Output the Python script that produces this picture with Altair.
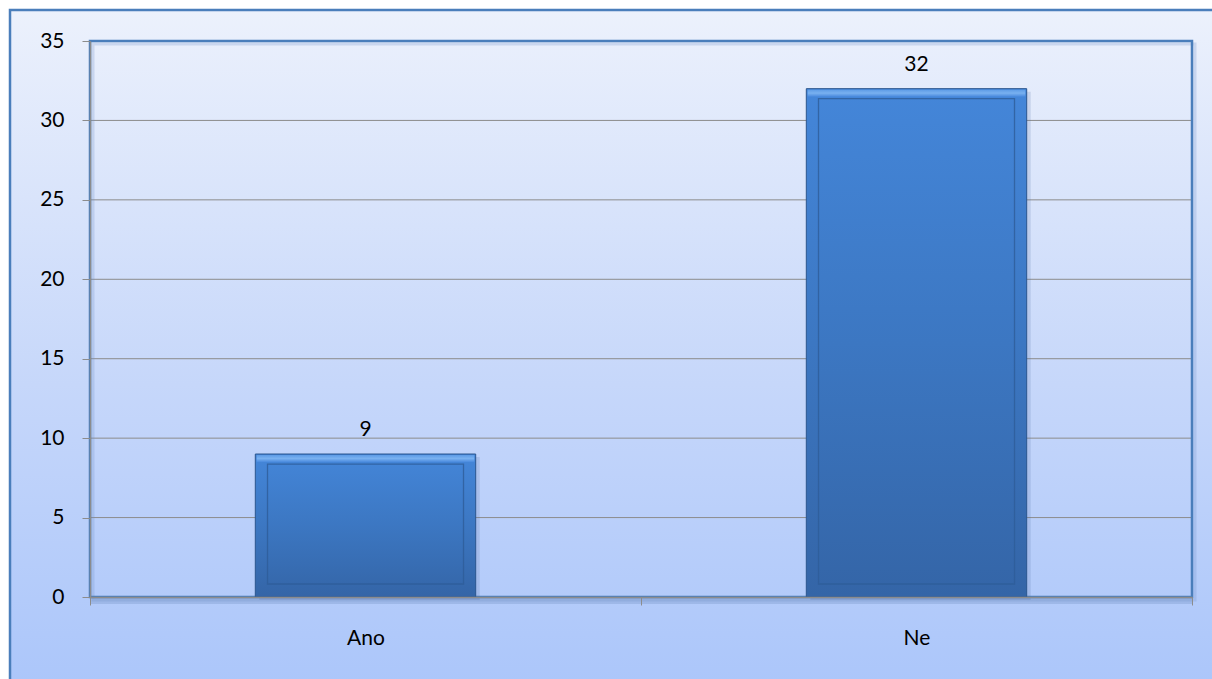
import altair as alt
import pandas as pd

# ---- data ----
categories = ["Ano", "Ne"]
counts = [9, 32]
y_ticks = [0, 5, 10, 15, 20, 25, 30, 35]

# ---- layout ----
W, H = 1102, 556
PL, PT, PR, PB = 90, 41, 20, 82
FONT = "Lato"
FS = 21

df = pd.DataFrame({"cat": categories, "n": counts})
grid_df = pd.DataFrame({"n": y_ticks[1:]})
zero_df = pd.DataFrame({"n": [0]})

xscale = alt.Scale(domain=categories, paddingInner=0, paddingOuter=0)
yscale = alt.Scale(domain=[0, 35], nice=False, zero=True)

xaxis = alt.Axis(
    title="", labelAngle=0, tickBand="extent", domainColor="#8c8c8c",
    domainWidth=1.5, tickColor="#8c8c8c", tickSize=8, labelPadding=22,
    labelFont=FONT, labelFontSize=FS, labelColor="#000000", grid=False, zindex=1,
)
yaxis = alt.Axis(
    title="", values=y_ticks, domainColor="#8c8c8c", domainWidth=1.5,
    tickColor="#8c8c8c", tickSize=8, labelPadding=18, labelFont=FONT,
    labelFontSize=FS, labelColor="#000000", grid=False, zindex=1,
)

X = alt.X("cat:N", scale=xscale, axis=xaxis, sort=categories)
Y = alt.Y("n:Q", scale=yscale, axis=yaxis)

bg_grad = alt.LinearGradient(
    gradient="linear", x1=0, x2=0, y1=0, y2=1,
    stops=[alt.GradientStop(color="#ecf1fc", offset=0),
           alt.GradientStop(color="#c6d7fa", offset=0.5),
           alt.GradientStop(color="#a5c2fa", offset=1)],
)
bar_grad = alt.LinearGradient(
    gradient="linear", x1=0, x2=0, y1=0, y2=1,
    stops=[alt.GradientStop(color="#4486d9", offset=0),
           alt.GradientStop(color="#3c77c2", offset=0.5),
           alt.GradientStop(color="#3465a7", offset=1)],
)
hi_grad = alt.LinearGradient(
    gradient="linear", x1=0, x2=0, y1=0, y2=1,
    stops=[alt.GradientStop(color="#5d9be6", offset=0),
           alt.GradientStop(color="#79b1f0", offset=0.5),
           alt.GradientStop(color="#4a8ade", offset=1)],
)

one = alt.Data(values=[{}])

background = alt.Chart(one).mark_rect(
    color=bg_grad, stroke="#4a7ebb", strokeWidth=2.5
).encode(
    x=alt.value(-PL + 10), x2=alt.value(W + PR + 80),
    y=alt.value(-PT + 10), y2=alt.value(H + PB + 80),
)

grid = alt.Chart(grid_df).mark_rule(color="#8c8c8c", strokeWidth=1).encode(y=Y)

plot_shadow = alt.Chart(one).mark_rect(
    fill="transparent", stroke="#6f8fc8", strokeWidth=3, strokeOpacity=0.25
).encode(x=alt.value(3), x2=alt.value(W + 3), y=alt.value(3), y2=alt.value(H + 3))

plot_border = alt.Chart(one).mark_rect(
    fill="transparent", stroke="#4a7ebb", strokeWidth=2.5
).encode(x=alt.value(0), x2=alt.value(W), y=alt.value(0), y2=alt.value(H))

axis_shadow = alt.Chart(zero_df).mark_rule(
    color="#5f7fb5", strokeWidth=6, opacity=0.25, yOffset=4
).encode(y=Y)

bar_shadow = alt.Chart(df).mark_bar(
    width=alt.RelativeBandSize(0.4), color="#4b6b9e", opacity=0.18,
    xOffset=4, yOffset=3,
).encode(x=X, y=Y)

bars = alt.Chart(df).mark_bar(
    width=alt.RelativeBandSize(0.4), color=bar_grad, stroke="#2b568e", strokeWidth=1
).encode(x=X, y=Y)

highlight = alt.Chart(df).mark_bar(
    width=alt.RelativeBandSize(0.395), color=hi_grad, yOffset=1, y2Offset=8
).encode(x=X, y=Y, y2="n:Q")

inner = alt.Chart(df).mark_bar(
    width=196, fill="transparent", stroke="#2e5c98", strokeWidth=1.3,
    strokeOpacity=0.8, yOffset=10, y2Offset=-13,
).encode(x=X, y=Y, y2=alt.datum(0))

labels = alt.Chart(df).mark_text(
    baseline="alphabetic", dy=-18, font=FONT, fontSize=FS, color="#000000"
).encode(x=X, y=Y, text="n:Q")

chart = alt.layer(
    background, grid, plot_shadow, plot_border, axis_shadow, bar_shadow,
    bars, highlight, inner, labels
).properties(
    width=W, height=H,
    padding={"left": PL, "top": PT, "right": PR, "bottom": PB},
    autosize=alt.AutoSizeParams(type="none"),
    background="#ffffff",
).configure_view(strokeWidth=0)

chart.save("out.html", embed_options={"renderer": "svg", "actions": False})
